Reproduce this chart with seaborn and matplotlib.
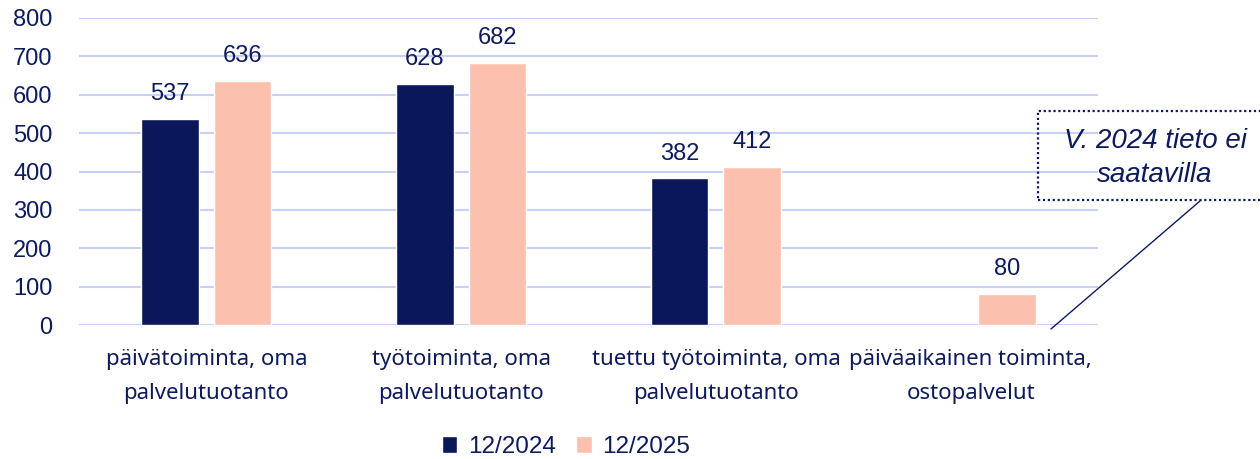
import matplotlib
matplotlib.use("Agg")
import matplotlib.pyplot as plt
import seaborn as sns
import pandas as pd
import numpy as np
from matplotlib.patches import Rectangle

categories = ["päivätoiminta, oma\npalvelutuotanto",
              "työtoiminta, oma\npalvelutuotanto",
              "tuettu työtoiminta, oma\npalvelutuotanto",
              "päiväaikainen toiminta,\nostopalvelut"]
series_names = ["12/2024", "12/2025"]
values_2024 = [537, 628, 382, np.nan]
values_2025 = [636, 682, 412, 80]
y_ticks = [0, 100, 200, 300, 400, 500, 600, 700, 800]
note_text = "V. 2024 tieto ei\nsaatavilla"

NAVY = "#0a185b"
PEACH = "#fcc0ae"
GRID = "#c8d0f6"
TXT = "#0d1a5c"

df = pd.DataFrame({
    "cat": categories * 2,
    "series": [series_names[0]] * 4 + [series_names[1]] * 4,
    "value": values_2024 + values_2025,
})

sns.set_theme(style="white")
plt.rcParams["font.family"] = ["Liberation Sans", "DejaVu Sans"]

fig = plt.figure(figsize=(12.6, 4.59), dpi=100)
W, H = 1260, 459
ax = fig.add_axes([79 / W, 1 - 325 / H, (1098 - 79) / W, (325 - 18) / H])

sns.barplot(data=df, x="cat", y="value", hue="series", order=categories,
            hue_order=series_names, palette=[NAVY, PEACH], width=0.57, gap=0.21,
            ax=ax, legend=True, saturation=1)

ax.set_ylim(0, 800)
ax.set_xlim(-0.5, 3.5)
ax.set_yticks(y_ticks)
ax.yaxis.grid(True, color=GRID, linewidth=1.5)
ax.set_axisbelow(True)
for s in ax.spines.values():
    s.set_visible(False)
ax.set_xlabel("")
ax.set_ylabel("")
ax.tick_params(axis="y", length=0, pad=19, labelsize=17, labelcolor=TXT)
ax.tick_params(axis="x", length=0, pad=17, labelcolor=TXT)
for lab in ax.get_xticklabels():
    lab.set_fontfamily(["Noto Sans", "DejaVu Sans"])
    lab.set_fontsize(16)
    lab.set_linespacing(1.85)

for cont in ax.containers:
    for bar in cont:
        h = bar.get_height()
        if np.isnan(h) or h == 0:
            continue
        ax.annotate(f"{int(h)}", (bar.get_x() + bar.get_width() / 2, h),
                    xytext=(0, 10), textcoords="offset points",
                    ha="center", va="bottom", fontsize=17, color=TXT)

handles, labels = ax.get_legend_handles_labels()
ax.get_legend().remove()
leg = fig.legend(handles, labels, loc="center", bbox_to_anchor=(566 / W, 1 - 447 / H),
                 ncol=2, frameon=False, fontsize=17.5, handlelength=0.65, handleheight=0.65,
                 handletextpad=0.45, columnspacing=0.8)
for t in leg.get_texts():
    t.set_color(TXT)

# note box
fig.patches.append(Rectangle((1038 / W, 1 - 200 / H), 240 / W, 89 / H,
                             transform=fig.transFigure, fill=False,
                             edgecolor=TXT, linestyle=(0, (1, 1.2)), linewidth=1.6))
fig.text(1155 / W, 1 - 158 / H, note_text, ha="center", va="center",
         fontsize=20, style="italic", color=TXT, linespacing=1.4)
ax.annotate("", xy=(1051 / W, 1 - 329 / H), xycoords="figure fraction",
            xytext=(1200 / W, 1 - 201 / H), textcoords="figure fraction",
            arrowprops=dict(arrowstyle="-", color=TXT, lw=1.0,
                            shrinkA=0, shrinkB=0),
            annotation_clip=False)

fig.savefig("out.png", dpi=100)
